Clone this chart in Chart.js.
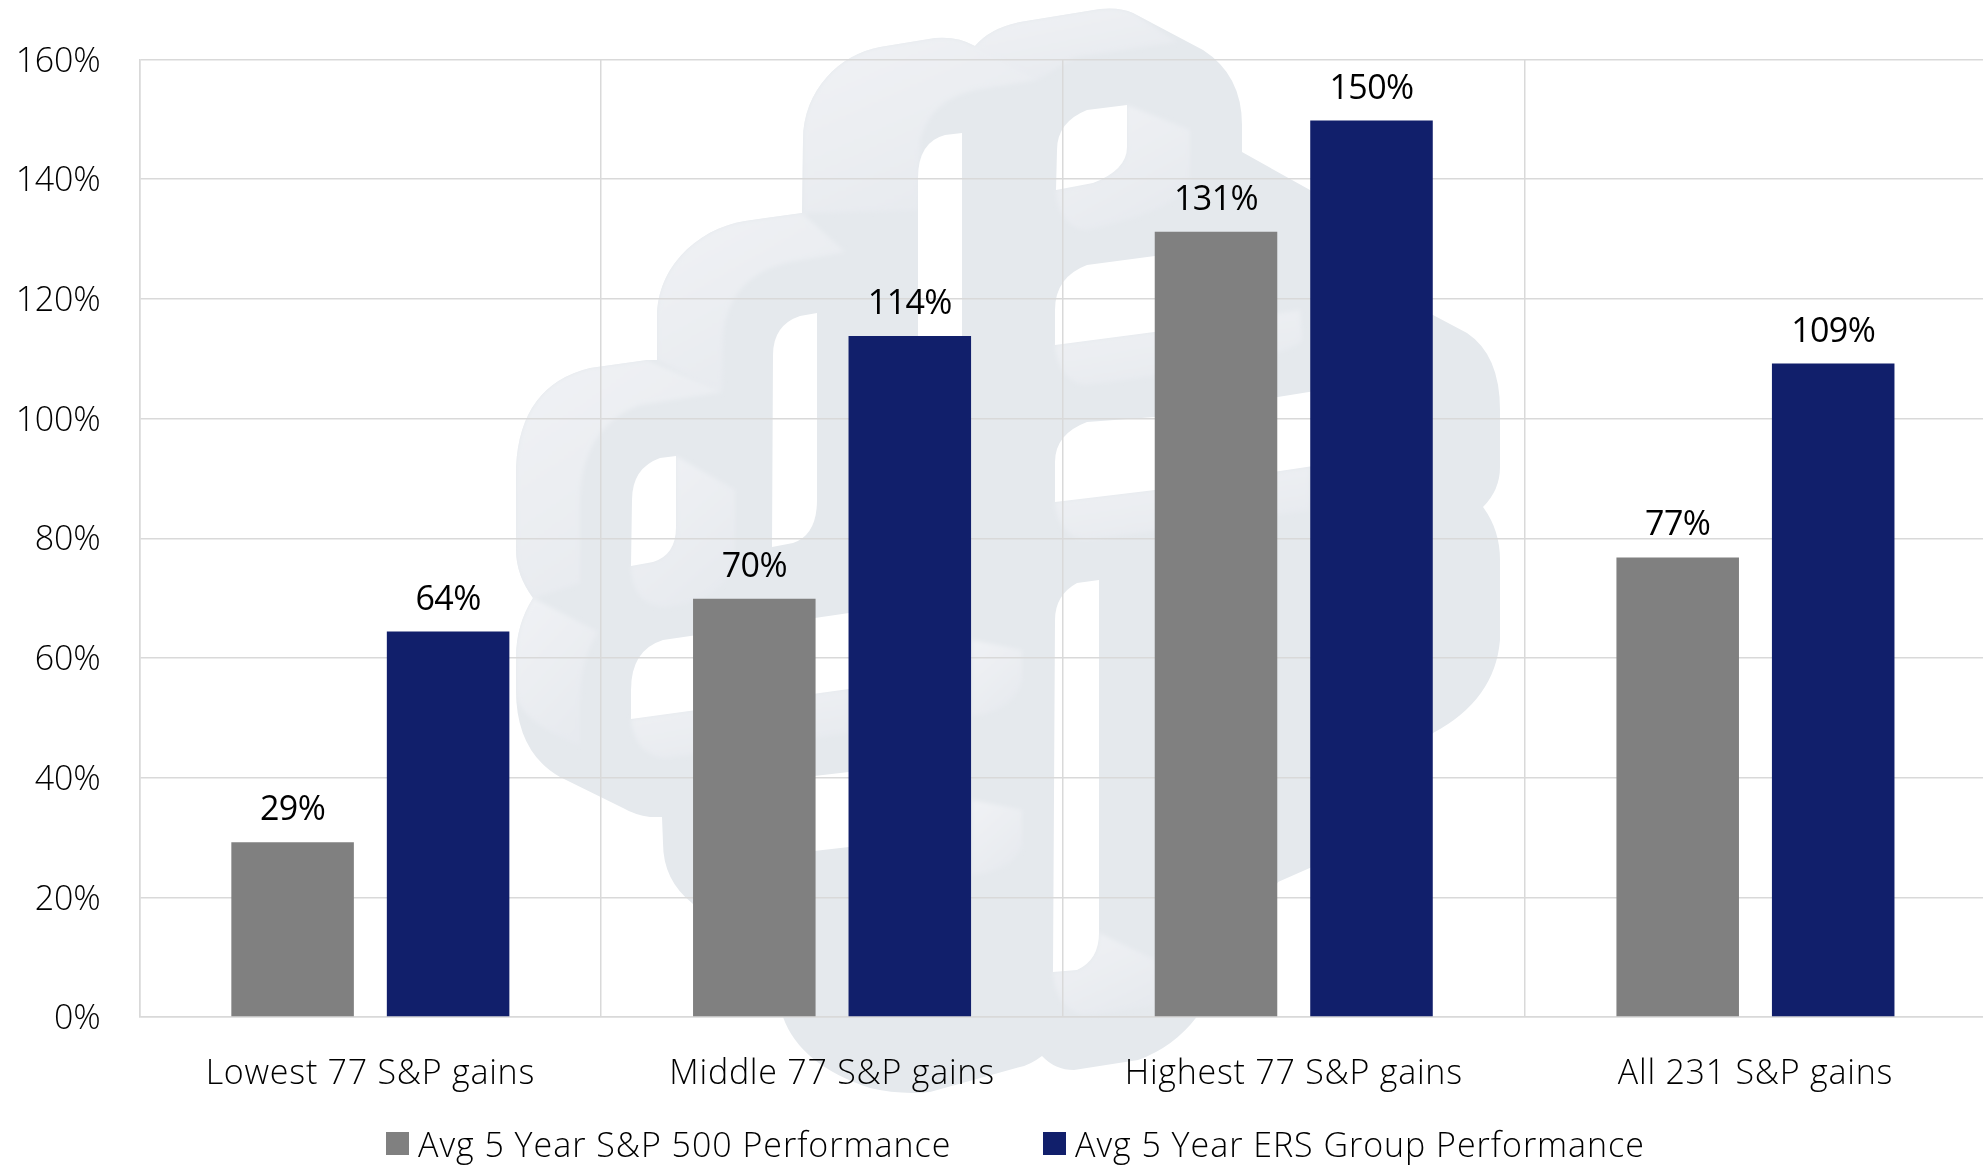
<!DOCTYPE html>
<html>
<head>
<meta charset="utf-8">
<title>S&amp;P gains</title>
<script src="https://cdn.jsdelivr.net/npm/chart.js@4"></script>
<style>
    html, body { margin: 0; padding: 0; background: #fff; overflow: hidden; }
    #wrap { position: relative; width: 1983px; height: 1166px; overflow: hidden; }
    #logo { position: absolute; left: 0; top: 0; }
    #chart { position: absolute; left: 0; top: 0; }
</style>
</head>
<body>
<div id="wrap">
    <!-- faint company logo behind the plot -->
    <svg id="logo" width="1983" height="1166" viewBox="0 0 1983 1166">
        <defs>
            <linearGradient id="sheen" x1="0" y1="0" x2="0.6" y2="1">
                <stop offset="0" stop-color="#f0f2f5"/>
                <stop offset="1" stop-color="#e7eaef"/>
            </linearGradient>
            <filter id="soft" x="-10%" y="-10%" width="120%" height="120%">
                <feGaussianBlur stdDeviation="2"/>
            </filter>
        </defs>
        <path id="body" fill="#e5e9ed" d="M657,360 L657,317 C657,265 700,228 745,221 L802,213 L803,140 C803,90 840,54 880,47 L935,38 Q958,36 975,46 Q990,28 1020,22 L1100,9 Q1120,7 1133,13 L1203,50 Q1242,75 1242,125 L1242,152 L1310,190 L1370,225 L1370,285 L1433,315 L1467,333 Q1500,355 1500,410 L1500,467 Q1500,490 1483,507 Q1500,530 1500,560 L1500,640 Q1495,700 1433,733 L1312,867 L1278,882 L1205,1005 Q1180,1045 1138,1060 L1074,1070 Q1055,1070 1042,1056 Q1030,1065 1020,1067 L930,1092 Q900,1095 870,1088 Q800,1065 783,1017 L692,903 Q663,880 663,843 L662,817 L650,817 Q635,815 623,808 L560,777 Q516,752 516,690 L516,657 Q516,625 533,598 Q516,575 516,550 L516,467 Q520,385 590,368 L647,360 Z"/>
        <clipPath id="bodyClip"><use href="#body"/></clipPath>
        <g clip-path="url(#bodyClip)">
        <g fill="url(#sheen)" filter="url(#soft)">
            <path d="M657,360 L657,317 C657,265 700,228 745,221 L802,213 L845,252 L790,262 Q730,275 723,333 L722,392 Z"/>
            <path d="M516,550 L516,467 Q520,385 590,368 L647,360 L722,392 L640,405 Q585,425 580,493 L580,583 L533,598 Q516,575 516,550 Z"/>
            <path d="M803,140 C803,90 840,54 880,47 L935,38 Q958,36 975,46 L1037,80 L975,90 Q930,100 920,140 L918,210 L803,213 Z"/>
            <path d="M975,46 Q990,28 1020,22 L1100,9 Q1120,7 1133,13 L1177,42 L1075,57 L1037,80 Z"/>
            <path d="M516,690 L516,657 Q516,625 533,598 L598,632 Q580,660 580,700 L580,745 Q516,720 516,690 Z"/>
            <path d="M631,566 L653,562 Q676,555 676,527 L676,456 L735,490 L735,560 Q725,600 665,607 Q632,605 631,566 Z"/>
            <path d="M631,719 L849,689 L849,733 L665,758 Q635,755 631,719 Z"/>
            <path d="M1056,190 L1093,183 Q1127,170 1127,147 L1127,105 L1190,130 L1190,180 Q1180,210 1085,230 Q1058,225 1056,190 Z"/>
            <path d="M1055,345 L1155,332 L1300,310 L1302,340 Q1290,360 1085,385 Q1058,380 1055,345 Z"/>
            <path d="M1055,502 L1155,490 L1310,467 L1310,510 L1085,540 Q1058,535 1055,502 Z"/>
            <path d="M1053,972 L1077,970 Q1099,960 1099,933 L1155,960 L1155,1005 L1085,1015 Q1056,1010 1053,972 Z"/>
            <path d="M972,640 L1022,650 L1022,680 Q1015,710 972,716 Z"/>
            <path d="M972,800 L1022,810 L1022,845 Q1015,870 972,875 Z"/>
        </g>
        </g>
        <g fill="#ffffff">
            <path d="M962,133 L945,135 Q918,142 918,178 L918,420 L962,420 Z"/>
            <path d="M817,313 L800,316 Q773,325 773,355 L772,547 L793,543 Q817,535 817,500 Z"/>
            <path d="M676,456 L660,458 Q632,468 632,500 L631,566 L653,562 Q676,555 676,527 Z"/>
            <path d="M849,613 L663,640 Q631,650 631,690 L631,719 L849,689 Z"/>
            <path d="M849,772 L720,787 L720,862 L849,847 Z"/>
            <path d="M1127,105 L1087,110 Q1057,122 1057,150 L1056,190 L1093,183 Q1127,170 1127,147 Z"/>
            <path d="M1200,250 L1087,265 Q1055,277 1055,310 L1055,345 L1200,326 Z"/>
            <path d="M1340,387 L1155,417 L1087,422 Q1055,434 1055,462 L1055,502 L1155,490 L1340,462 Z"/>
            <path d="M1099,580 L1077,583 Q1055,595 1055,620 L1053,972 L1077,970 Q1099,960 1099,933 Z"/>
        </g>
    </svg>
    <canvas id="chart" width="1990" height="1166"></canvas>
</div>
<script>
const categories = ['Lowest 77 S&P gains', 'Middle 77 S&P gains', 'Highest 77 S&P gains', 'All 231 S&P gains'];
const sp500Values = [29.2, 69.9, 131.2, 76.8];
const ersValues = [64.4, 113.8, 149.8, 109.2];
const seriesNames = ['Avg 5 Year S&P 500 Performance', 'Avg 5 Year ERS Group Performance'];

const FONT = '"Open Sans", sans-serif';
const FONT_SIZE = 34;
const TICK_WEIGHT = 300;
const legendX = [386, 1043];

// canvas resets its state on resize, so tracking is set per text group at draw time
const trackingPlugin = {
    id: 'tracking',
    beforeDraw(chart) {
        const ctx = chart.ctx;
        ctx.letterSpacing = '-0.2px';
        const x = chart.scales.x;
        if (!x.wrapped) {
            const drawLabels = x.drawLabels;
            x.drawLabels = function (area) {
                ctx.letterSpacing = '0.75px';
                drawLabels.call(this, area);
                ctx.letterSpacing = '-0.2px';
            };
            x.wrapped = true;
        }
    }
};

// value labels above the bars
const barLabelsPlugin = {
    id: 'barLabels',
    afterDatasetsDraw(chart) {
        const ctx = chart.ctx;
        ctx.save();
        ctx.letterSpacing = '-0.6px';
        ctx.font = `${FONT_SIZE}px ${FONT}`;
        ctx.fillStyle = '#000';
        ctx.textAlign = 'center';
        ctx.textBaseline = 'alphabetic';
        chart.data.datasets.forEach((ds, d) => {
            chart.getDatasetMeta(d).data.forEach((bar, i) => {
                ctx.fillText(Math.round(ds.data[i]) + '%', bar.x, bar.y - 22);
            });
        });
        ctx.restore();
    }
};

// legend row, native one can't give this swatch/text spacing
const legendRowPlugin = {
    id: 'legendRow',
    afterDraw(chart) {
        const ctx = chart.ctx;
        ctx.save();
        ctx.letterSpacing = '0.97px';
        ctx.font = `${TICK_WEIGHT} ${FONT_SIZE}px ${FONT}`;
        ctx.textAlign = 'left';
        ctx.textBaseline = 'alphabetic';
        chart.data.datasets.forEach((ds, d) => {
            ctx.fillStyle = ds.backgroundColor;
            ctx.fillRect(legendX[d], 1132, 23, 23);
            ctx.fillStyle = '#000';
            ctx.fillText(ds.label, legendX[d] + 32, 1157);
        });
        ctx.restore();
    }
};

new Chart(document.getElementById('chart').getContext('2d'), {
    type: 'bar',
    data: {
        labels: categories,
        datasets: [
            { label: seriesNames[0], data: sp500Values, backgroundColor: '#808080' },
            { label: seriesNames[1], data: ersValues, backgroundColor: '#111f6b' }
        ]
    },
    plugins: [trackingPlugin, barLabelsPlugin, legendRowPlugin],
    options: {
        responsive: false,
        animation: false,
        devicePixelRatio: 1,
        layout: { padding: { top: 59.5, right: 3.7, left: 0, bottom: 0 } },
        datasets: { bar: { categoryPercentage: 0.6736, barPercentage: 0.788 } },
        plugins: {
            legend: { display: false },
            tooltip: { enabled: false }
        },
        scales: {
            x: {
                afterFit(scale) { scale.height = 149; },
                grid: { color: '#d9d9d9', lineWidth: 1.5, drawTicks: false },
                border: { color: '#d9d9d9', width: 1.5 },
                ticks: {
                    color: '#000',
                    font: { family: FONT, size: FONT_SIZE, weight: TICK_WEIGHT },
                    padding: 37,
                    maxRotation: 0,
                    autoSkip: false
                }
            },
            y: {
                min: 0,
                max: 160,
                afterFit(scale) { scale.width = 139.5; },
                grid: { color: '#d9d9d9', lineWidth: 1.5, drawTicks: false },
                border: { color: '#d9d9d9', width: 1.5 },
                ticks: {
                    stepSize: 20,
                    color: '#000',
                    font: { family: FONT, size: FONT_SIZE, weight: TICK_WEIGHT },
                    padding: 39,
                    labelOffset: 2.5,
                    callback: v => v + '%'
                }
            }
        }
    }
});
</script>
</body>
</html>
